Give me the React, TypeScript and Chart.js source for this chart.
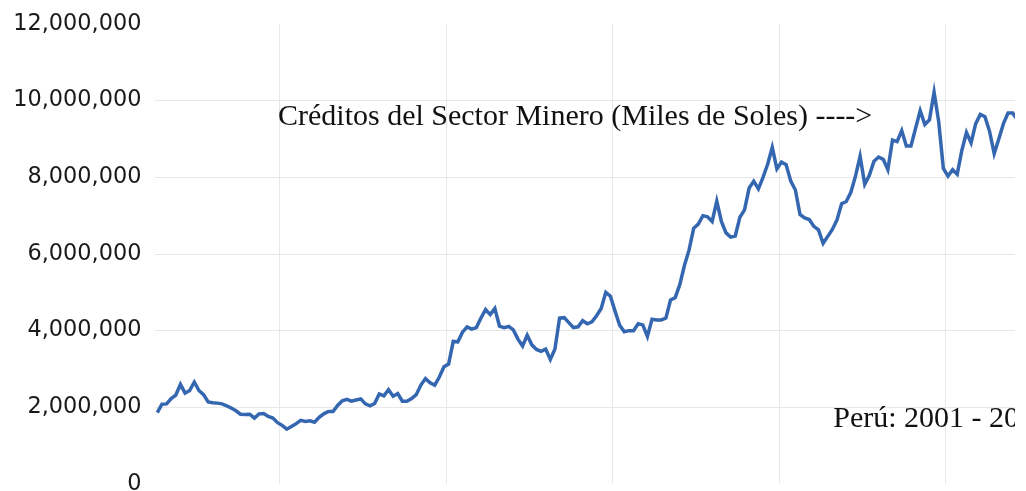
import React, { useEffect, useRef } from "react";
import { Chart, registerables } from "chart.js";

Chart.register(...registerables);

// Monthly credit to the mining sector (thousands of soles)
const creditValues: number[] = [
  1860000, 2080000, 2090000, 2230000, 2320000, 2600000, 2370000, 2440000, 2660000, 2440000,
  2330000, 2140000, 2120000, 2110000, 2090000, 2040000, 1980000, 1910000, 1820000, 1810000,
  1820000, 1720000, 1830000, 1840000, 1760000, 1720000, 1600000, 1530000, 1430000, 1500000,
  1570000, 1660000, 1630000, 1650000, 1610000, 1740000, 1830000, 1890000, 1890000, 2050000,
  2170000, 2210000, 2160000, 2190000, 2220000, 2090000, 2040000, 2100000, 2350000, 2300000,
  2460000, 2290000, 2360000, 2160000, 2160000, 2230000, 2330000, 2580000, 2750000, 2640000,
  2580000, 2790000, 3060000, 3130000, 3720000, 3710000, 3960000, 4100000, 4040000, 4080000,
  4330000, 4550000, 4420000, 4580000, 4120000, 4080000, 4110000, 4020000, 3780000, 3600000,
  3880000, 3630000, 3510000, 3460000, 3520000, 3250000, 3520000, 4330000, 4340000, 4210000,
  4080000, 4100000, 4260000, 4180000, 4230000, 4390000, 4580000, 5000000, 4900000, 4510000,
  4140000, 3970000, 4000000, 4000000, 4180000, 4150000, 3850000, 4300000, 4280000, 4280000,
  4330000, 4800000, 4860000, 5200000, 5700000, 6100000, 6670000, 6780000, 7000000, 6970000,
  6850000, 7380000, 6850000, 6550000, 6440000, 6470000, 6960000, 7150000, 7720000, 7900000,
  7700000, 8000000, 8340000, 8780000, 8220000, 8400000, 8330000, 7900000, 7670000, 7030000,
  6940000, 6900000, 6720000, 6630000, 6280000, 6460000, 6640000, 6890000, 7310000, 7370000,
  7610000, 8030000, 8550000, 7820000, 8050000, 8420000, 8530000, 8470000, 8200000, 8970000,
  8930000, 9220000, 8820000, 8820000, 9280000, 9740000, 9380000, 9500000, 10220000, 9450000,
  8230000, 8030000, 8200000, 8080000, 8700000, 9170000, 8900000, 9400000, 9640000, 9580000,
  9200000, 8620000, 9000000, 9400000, 9680000, 9680000, 9500000,
];

// Month positions (index) where the vertical gridlines fall
const xGridPositions: number[] = [26.5, 62.5, 98.5, 134.5, 170.5];

// Y-axis tick values
const yTickValues: number[] = [0, 2000000, 4000000, 6000000, 8000000, 10000000, 12000000];

const titleText = "Créditos del Sector Minero (Miles de Soles) ---->";
const subtitleText = "Perú: 2001 - 2016";

// Annotation anchors in data units (month index, value)
const titleAnchor = { x: 26.1, y: 9366000 };
const subtitleAnchor = { x: 146.2, y: 1490000 };

const annotationPlugin = {
  id: "textAnnotations",
  afterDatasetsDraw(chart: any) {
    const { ctx, chartArea, scales } = chart;
    ctx.save();
    ctx.beginPath();
    ctx.rect(chartArea.left, chartArea.top, chartArea.right - chartArea.left, chartArea.bottom - chartArea.top);
    ctx.clip();
    ctx.fillStyle = "#111111";
    ctx.font = "30px 'Liberation Serif', 'Times New Roman', serif";
    ctx.textAlign = "left";
    ctx.textBaseline = "alphabetic";
    ctx.fillText(titleText, scales.x.getPixelForValue(titleAnchor.x), scales.y.getPixelForValue(titleAnchor.y));
    ctx.fillText(subtitleText, scales.x.getPixelForValue(subtitleAnchor.x), scales.y.getPixelForValue(subtitleAnchor.y));
    ctx.restore();
  },
};

export default function App() {
  const canvasRef = useRef<HTMLCanvasElement | null>(null);

  useEffect(() => {
    if (!canvasRef.current) return;
    const points = creditValues.map((v, i) => ({ x: i, y: v }));
    const chart = new Chart(canvasRef.current, {
      type: "line",
      data: {
        datasets: [
          {
            data: points,
            borderColor: "#3567b1",
            borderWidth: 3.5,
            pointRadius: 0,
            tension: 0,
            fill: false,
            clip: 0,
          } as any,
        ],
      },
      options: {
        animation: false,
        responsive: false,
        devicePixelRatio: 1,
        layout: { padding: { top: 0, bottom: 0, right: 11, left: 0 } },
        plugins: {
          legend: { display: false },
          tooltip: { enabled: false },
        },
        scales: {
          x: {
            type: "linear",
            min: -0.5,
            max: 185.5,
            afterBuildTicks(scale: any) {
              scale.ticks = xGridPositions.map((v) => ({ value: v }));
            },
            afterFit(scale: any) {
              scale.height = 0;
            },
            ticks: { display: false },
            grid: { color: "#e8e8e8", lineWidth: 1, drawTicks: false },
            border: { display: false },
          },
          y: {
            min: 0,
            max: 12000000,
            afterBuildTicks(scale: any) {
              scale.ticks = yTickValues.map((v) => ({ value: v }));
            },
            afterFit(scale: any) {
              scale.width = 155;
            },
            ticks: {
              padding: 13.56,
              color: "#1a1a1a",
              font: { family: "'DejaVu Sans', sans-serif", size: 22.4 },
              callback: (v: any) => Number(v).toLocaleString("en-US"),
            },
            grid: {
              drawTicks: false,
              lineWidth: 1,
              color: (c: any) =>
                c.tick && (c.tick.value === 0 || c.tick.value === 12000000) ? "rgba(0,0,0,0)" : "#e8e8e8",
            },
            border: { display: false },
          },
        },
      },
      plugins: [annotationPlugin],
    });
    return () => chart.destroy();
  }, []);

  return (
    <div style={{ position: "fixed", left: 0, top: -3, width: 1026, height: 514, background: "#fff" }}>
      <canvas ref={canvasRef} width={1026} height={514} style={{ display: "block" }} />
    </div>
  );
}
